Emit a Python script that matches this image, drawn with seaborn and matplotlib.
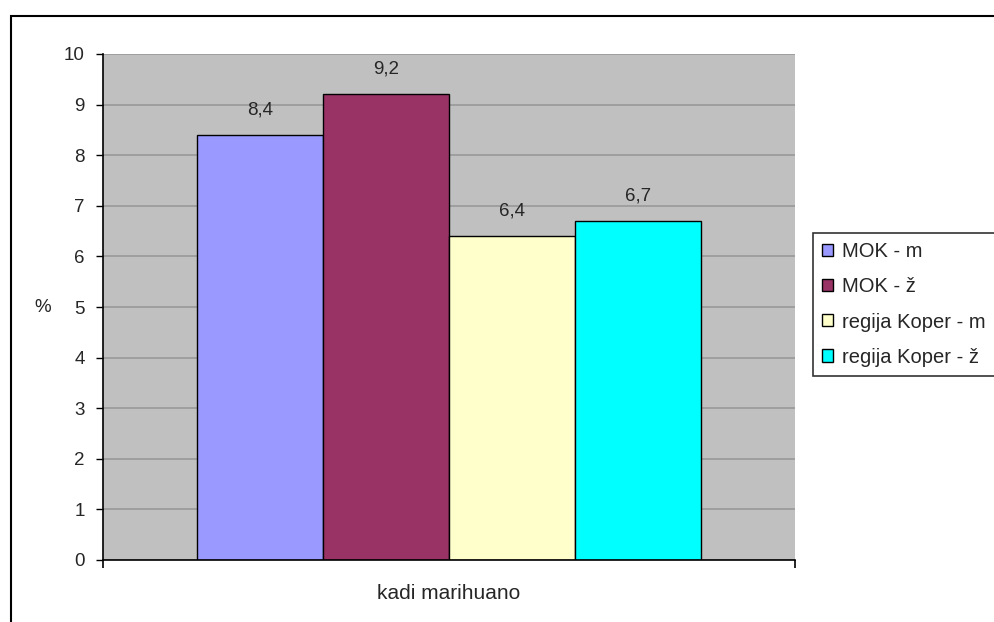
import pandas as pd
import seaborn as sns
import matplotlib.pyplot as plt
from matplotlib.patches import Rectangle

# chart values
category = ['kadi marihuano']
series = ['MOK - m', 'MOK - ž', 'regija Koper - m', 'regija Koper - ž']
values = [8.4, 9.2, 6.4, 6.7]
labels = ['8,4', '9,2', '6,4', '6,7']
colors = ['#9999FF', '#993366', '#FFFFCC', '#00FFFF']
yticks = [0, 1, 2, 3, 4, 5, 6, 7, 8, 9, 10]

data = pd.DataFrame({'cat': category * len(series), 'serija': series, 'val': values})

sns.set_style('white')
plt.rcParams['font.family'] = ['Liberation Sans', 'DejaVu Sans']

fig = plt.figure(figsize=(9.95, 6.22), dpi=100)
ax = fig.add_axes([103 / 995, 62 / 622, 692 / 995, 506 / 622])
ax.set_facecolor('#C0C0C0')

sns.barplot(data=data, x='cat', y='val', hue='serija', hue_order=series,
            palette=colors, width=0.728, saturation=1, edgecolor='black',
            linewidth=1, ax=ax, legend=True)

for cont, lab in zip(ax.containers, labels):
    ax.bar_label(cont, labels=[lab], padding=12, fontsize=13.5)

ax.set_ylim(0, 10)
ax.set_xlim(-0.5, 0.5)
ax.set_yticks(yticks)
ax.set_yticklabels([str(t) for t in yticks], fontsize=13.5)
ax.yaxis.grid(True, color='#999999', linewidth=1.2)
ax.set_axisbelow(True)
ax.tick_params(axis='y', direction='out', length=5, width=1, color='black', left=True, pad=8)

# category label centred, tick marks at category edges
ax.set_xticks([0])
ax.set_xticklabels(category, fontsize=15)
ax.tick_params(axis='x', length=0, pad=17)
ax.set_xticks([-0.5, 0.5], minor=True)
ax.tick_params(axis='x', which='minor', direction='out', length=6, width=1.2, color='black', bottom=True)

for s in ['top', 'right']:
    ax.spines[s].set_visible(False)
for s in ['left', 'bottom']:
    ax.spines[s].set_color('black')
    ax.spines[s].set_linewidth(1.2)

ax.set_xlabel('')
ax.set_ylabel('%', fontsize=13.5, rotation=0, ha='center', va='center')
ax.yaxis.set_label_coords(-0.087, 0.5)

leg = ax.legend(loc='center left', bbox_to_anchor=(813 / 995, 317.5 / 622),
                bbox_transform=fig.transFigure, frameon=True, fancybox=False,
                fontsize=14.5, handlelength=0.55, handleheight=0.55, handletextpad=0.45,
                labelspacing=0.8, borderpad=0.45, borderaxespad=0)
leg.get_frame().set_edgecolor('black')
leg.get_frame().set_linewidth(1.2)
for h in leg.legend_handles:
    h.set_edgecolor('black')
    h.set_linewidth(1)

# outer chart border
fig.patches.append(Rectangle((11 / 995, -0.05), 1.2, (622 - 16) / 622 + 0.05,
                             transform=fig.transFigure, fill=False,
                             edgecolor='black', linewidth=1.5))

fig.savefig('out.png', dpi=100)
